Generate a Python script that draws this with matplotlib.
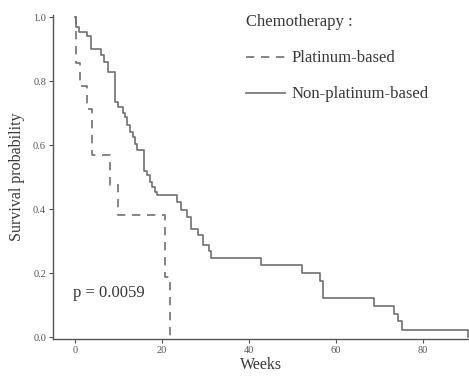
import matplotlib
matplotlib.use("Agg")
import matplotlib.pyplot as plt

# Kaplan-Meier step data (weeks, survival after each drop)
plat_weeks = [0, 0.2, 1.2, 2.8, 4.0, 8.0, 10.0, 20.7, 21.8]
plat_surv = [1.0, 0.857, 0.786, 0.714, 0.571, 0.476, 0.381, 0.19, 0.0]

nonplat_weeks = [0, 0.2, 0.9, 2.9, 3.8, 6.0, 6.7, 7.7, 9.2, 10.0, 11.1, 11.6,
                 12.1, 12.6, 13.4, 13.9, 14.4, 15.9, 16.7, 17.2, 17.8, 18.4,
                 18.8, 23.4, 24.5, 25.8, 26.8, 28.3, 29.5, 30.9, 31.4, 42.7,
                 52.3, 56.3, 57.1, 68.7, 73.3, 74.3, 75.3, 90.4]
nonplat_surv = [1.0, 0.97, 0.954, 0.94, 0.90, 0.883, 0.86, 0.83, 0.735, 0.72,
                0.70, 0.688, 0.663, 0.64, 0.626, 0.605, 0.586, 0.52, 0.506,
                0.485, 0.47, 0.454, 0.444, 0.423, 0.397, 0.376, 0.34, 0.319,
                0.29, 0.27, 0.249, 0.225, 0.20, 0.176, 0.124, 0.097, 0.074,
                0.051, 0.024, 0.0]

x_ticks = [0, 20, 40, 60, 80]
y_ticks = [0.0, 0.2, 0.4, 0.6, 0.8, 1.0]
p_text = "p = 0.0059"

plt.rcParams['font.family'] = ['Liberation Serif', 'DejaVu Serif']

line_col = '#707070'
axis_col = '#555555'
text_col = '#383838'

fig = plt.figure(figsize=(4.69, 3.78), dpi=100)
ax = fig.add_axes([0.113, 0.1024, 0.887, 0.858])

ax.step(plat_weeks, plat_surv, where='post', color=line_col, lw=1.2,
        linestyle=(0, (5, 4)), label='Platinum-based')
ax.step(nonplat_weeks, nonplat_surv, where='post', color=line_col, lw=1.2,
        label='Non-platinum-based')

ax.set_xlim(-5, 90.6)
ax.set_ylim(-0.006, 1.007)
ax.set_xticks(x_ticks)
ax.set_yticks(y_ticks)
ax.set_yticklabels([f"{v:.1f}" for v in y_ticks])

for s in ['top', 'right']:
    ax.spines[s].set_visible(False)
for s in ['left', 'bottom']:
    ax.spines[s].set_color(axis_col)
    ax.spines[s].set_linewidth(1.0)
ax.tick_params(colors=axis_col, labelcolor='#555555', labelsize=7.5,
               length=3, width=0.8, pad=2)

ax.set_xlabel('Weeks', fontsize=11.5, color=text_col, labelpad=1)
ax.set_ylabel('Survival probability', fontsize=11.5, color=text_col, labelpad=6)

ax.text(-0.5, 0.14, p_text, fontsize=12, color=text_col, va='center', ha='left')

leg = ax.legend(title='Chemotherapy :', loc='upper left',
                bbox_to_anchor=(0.525, 0.962), bbox_transform=fig.transFigure,
                frameon=False, fontsize=12, title_fontsize=12, borderpad=0,
                borderaxespad=0, handlelength=2.3, handletextpad=0.4,
                labelspacing=1.2, alignment='left')
for t in leg.get_texts():
    t.set_color(text_col)
leg.get_title().set_color(text_col)

fig.savefig('out.png', dpi=100)
